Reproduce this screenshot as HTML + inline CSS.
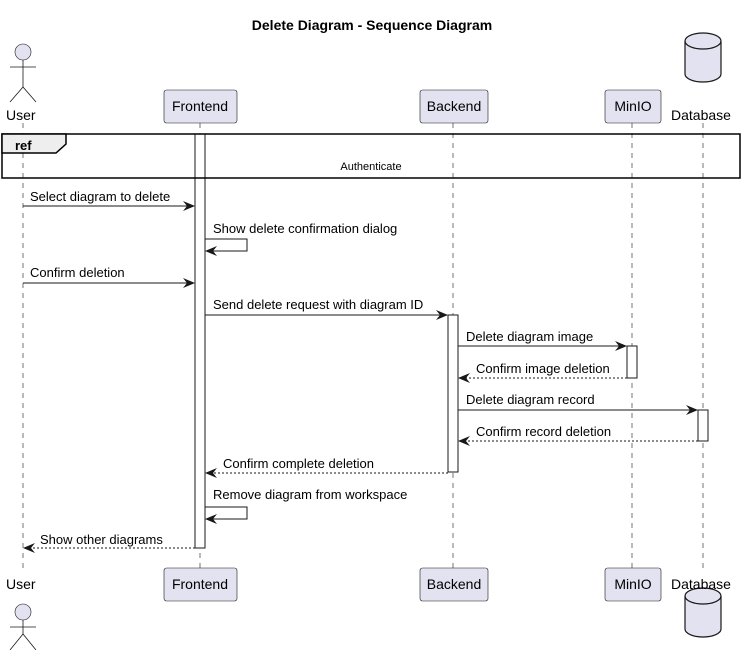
<!DOCTYPE html>
<html><head><meta charset="utf-8"><style>
html,body{margin:0;padding:0;background:#fff;}
svg text{font-family:"Liberation Sans","DejaVu Sans",sans-serif;}
</style></head><body>
<svg width="745" height="650" viewBox="0 0 745 650" xmlns="http://www.w3.org/2000/svg">
<defs>
<marker id="a" viewBox="0 0 12 10" refX="11" refY="5" markerWidth="12" markerHeight="10" markerUnits="userSpaceOnUse" orient="auto"><path d="M0,0 L12,5 L0,10 L4,5 Z" fill="#181818"/></marker>
</defs>
<text x="372" y="30" font-size="14" font-weight="bold" text-anchor="middle" fill="#000">Delete Diagram - Sequence Diagram</text>
<g stroke="#181818" stroke-width="0.6" stroke-dasharray="5,5">
<line x1="23" y1="123" x2="23" y2="568"/>
<line x1="200" y1="123" x2="200" y2="568"/>
<line x1="453" y1="123" x2="453" y2="568"/>
<line x1="632" y1="123" x2="632" y2="568"/>
<line x1="703" y1="123" x2="703" y2="568"/>
</g>
<g fill="#E2E2F0" stroke="#181818" stroke-width="0.6">
<circle cx="23" cy="52" r="8"/>
<rect x="164" y="90" width="73" height="33" rx="2.5"/>
<rect x="420" y="90" width="68" height="33" rx="2.5"/>
<rect x="605" y="90" width="56" height="33" rx="2.5"/>
<rect x="605" y="568" width="56" height="33" rx="2.5"/>
<rect x="164" y="568" width="73" height="33" rx="2.5"/>
<rect x="420" y="568" width="68" height="33" rx="2.5"/>
<circle cx="23" cy="612" r="8"/>
</g>
<g stroke="#181818" stroke-width="0.8" fill="none">
<line x1="23" y1="60" x2="23" y2="87"/><line x1="10" y1="67" x2="36" y2="67"/>
<path d="M10,102 L23,87 L36,102"/>
<line x1="23" y1="620" x2="23" y2="634"/><line x1="10" y1="627" x2="36" y2="627"/>
<path d="M10,650 L23,634 L36,650"/>
</g>
<g fill="#E2E2F0" stroke="#181818" stroke-width="1.2">
<path d="M685,41 a18,8 0 0 1 36,0 v33 a18,8 0 0 1 -36,0 Z"/>
<path d="M685,41 a18,8 0 0 0 36,0" fill="none"/>
<path d="M685,596 a18,8 0 0 1 36,0 v33 a18,8 0 0 1 -36,0 Z"/>
<path d="M685,596 a18,8 0 0 0 36,0" fill="none"/>
</g>
<g font-size="14" fill="#000">
<text x="6" y="120">User</text>
<text x="200" y="111" text-anchor="middle">Frontend</text>
<text x="454" y="111" text-anchor="middle">Backend</text>
<text x="633" y="111" text-anchor="middle">MinIO</text>
<text x="671" y="120">Database</text>
<text x="6" y="589">User</text>
<text x="200" y="589" text-anchor="middle">Frontend</text>
<text x="454" y="589" text-anchor="middle">Backend</text>
<text x="633" y="589" text-anchor="middle">MinIO</text>
<text x="671" y="589">Database</text>
</g>
<g fill="#fff" stroke="#181818" stroke-width="1">
<rect x="195" y="134" width="10" height="414"/>
<rect x="448" y="315" width="10" height="157"/>
<rect x="627" y="346" width="10" height="32"/>
<rect x="698" y="410" width="10" height="31"/>
</g>
<rect x="2" y="134" width="738" height="44" fill="none" stroke="#000" stroke-width="1.5"/>
<path d="M2,134 H66 V144 L56,153 H2 Z" fill="#EEEEEE" stroke="#000" stroke-width="1.5"/>
<text x="15" y="150" font-size="13" font-weight="bold">ref</text>
<text x="371" y="170" font-size="11" text-anchor="middle">Authenticate</text>
<g stroke="#181818" stroke-width="1" fill="none" marker-end="url(#a)">
<line x1="23" y1="206" x2="194" y2="206"/>
<path d="M205,239 H247 V251 H206"/>
<line x1="23" y1="283" x2="194" y2="283"/>
<line x1="205" y1="315" x2="447" y2="315"/>
<line x1="458" y1="346" x2="626" y2="346"/>
<line x1="627" y1="378" x2="459" y2="378" stroke-dasharray="2,2"/>
<line x1="458" y1="410" x2="697" y2="410"/>
<line x1="698" y1="441" x2="459" y2="441" stroke-dasharray="2,2"/>
<line x1="448" y1="473" x2="206" y2="473" stroke-dasharray="2,2"/>
<path d="M205,507 H247 V519 H206"/>
<line x1="195" y1="548" x2="24" y2="548" stroke-dasharray="2,2"/>
</g>
<g font-size="13" fill="#000">
<text x="30" y="201">Select diagram to delete</text>
<text x="213" y="233">Show delete confirmation dialog</text>
<text x="30" y="277">Confirm deletion</text>
<text x="213" y="309">Send delete request with diagram ID</text>
<text x="466" y="341">Delete diagram image</text>
<text x="476" y="373">Confirm image deletion</text>
<text x="466" y="404">Delete diagram record</text>
<text x="476" y="436">Confirm record deletion</text>
<text x="223" y="468">Confirm complete deletion</text>
<text x="213" y="499">Remove diagram from workspace</text>
<text x="40" y="544">Show other diagrams</text>
</g>
</svg>
</body></html>
